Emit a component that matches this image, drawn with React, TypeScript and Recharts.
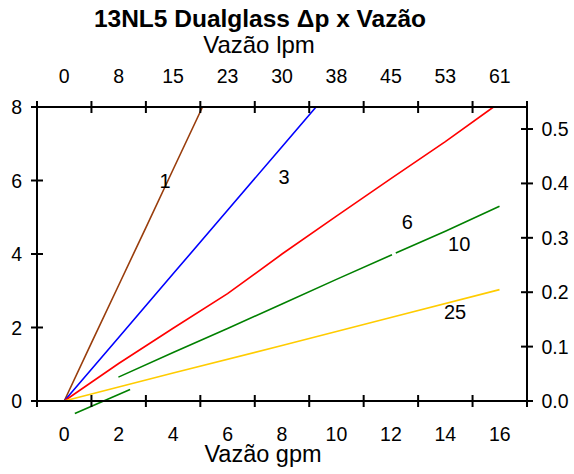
import React from "react";
import { LineChart, Line, XAxis, YAxis, ReferenceLine, ReferenceDot } from "recharts";

const FONT = "'Liberation Sans', Arial, Helvetica, sans-serif";

// curves: gpm -> psi, one pair of arrays per filter rating
const curveNames = ["1", "3", "6", "10", "25"];
const curveColors = ["#993d0c", "#0000ff", "#ff0000", "#008000", "#ffcc00"];

const gpm1 = [0, 1, 2, 3, 4, 5.08];
const psi1 = [0, 1.58, 3.15, 4.72, 6.3, 8];
const gpm3 = [0, 2, 4, 6, 8, 9.25];
const psi3 = [0, 1.73, 3.46, 5.19, 6.92, 8];
const gpm6 = [0, 2, 4, 6, 8, 10, 12, 14, 15.77];
const psi6 = [0, 1.02, 1.98, 2.92, 4.0, 5.03, 6.05, 7.06, 8];
const gpm10 = [1.99, 4, 6, 8, 10, 12.04, 12.11, 12.18, 14, 15.99];
const psi10 = [0.65, 1.32, 1.97, 2.64, 3.31, 3.98, null, 4.03, 4.62, 5.3];
const gpm25 = [0, 4, 8, 12, 15.99];
const psi25 = [0, 0.76, 1.51, 2.27, 3.03];

// loose piece of the "10" curve that dips under the axis
const stubGpm = [0.39, 2.42];
const stubPsi = [-0.34, 0.31];

// where the curve names sit
const labelGpm = [3.7, 8.08, 12.6, 14.51, 14.36];
const labelPsi = [6.0, 6.11, 4.86, 4.28, 2.42];

const gpmTicks = [-1, 0, 1, 2, 3, 4, 5, 6, 7, 8, 9, 10, 11, 12, 13, 14, 15, 16, 17];
const lpmLabels = ["0", "8", "15", "23", "30", "38", "45", "53", "61"];
const psiTicks = [0, 2, 4, 6, 8];
const barTicks = [0, 0.1, 0.2, 0.3, 0.4, 0.5];

const gpmSets = [gpm1, gpm3, gpm6, gpm10, gpm25];
const psiSets = [psi1, psi3, psi6, psi10, psi25];

const series = curveNames.map((name, i) => ({
  name,
  color: curveColors[i],
  data: gpmSets[i].map((g, j) => ({ gpm: g, psi: psiSets[i][j] })),
}));

const tickStyle = { fontSize: 19.5, fontFamily: FONT, fill: "#000" };

function BottomTick(props: any) {
  const { x, y, payload } = props;
  const v = payload.value;
  if (v % 2 !== 0) {
    return <line x1={x} x2={x} y1={y - 6} y2={y + 6} stroke="#000" strokeWidth={2} />;
  }
  return (
    <text x={x} y={y + 40} textAnchor="middle" {...tickStyle}>
      {v}
    </text>
  );
}

function TopTick(props: any) {
  const { x, y, payload } = props;
  const v = payload.value;
  if (v % 2 !== 0) {
    return <line x1={x} x2={x} y1={y - 6} y2={y + 6} stroke="#000" strokeWidth={2} />;
  }
  return (
    <text x={x} y={y - 24.5} textAnchor="middle" {...tickStyle}>
      {lpmLabels[v / 2]}
    </text>
  );
}

function LeftTick(props: any) {
  const { x, y, payload } = props;
  return (
    <g>
      <line x1={x - 6} x2={x + 6} y1={y} y2={y} stroke="#000" strokeWidth={2} />
      <text x={x - 15} y={y + 7} textAnchor="end" {...tickStyle}>
        {payload.value}
      </text>
    </g>
  );
}

function RightTick(props: any) {
  const { x, y, payload } = props;
  return (
    <g>
      <line x1={x - 6} x2={x + 6} y1={y} y2={y} stroke="#000" strokeWidth={2} />
      <text x={x + 14.5} y={y + 7} textAnchor="start" {...tickStyle}>
        {payload.value.toFixed(1)}
      </text>
    </g>
  );
}

export default function App() {
  return (
    <div style={{ position: "absolute", left: 0, top: 0, width: 574, height: 474, background: "#fff" }}>
      <LineChart width={574} height={474} margin={{ top: 0, right: 0, bottom: 0, left: 0 }}>
        <XAxis
          xAxisId="gpm"
          dataKey="gpm"
          type="number"
          orientation="bottom"
          domain={[-1, 17]}
          ticks={gpmTicks}
          interval={0}
          height={73}
          tickSize={0}
          tickMargin={0}
          tickLine={false}
          tick={<BottomTick />}
          axisLine={{ stroke: "#000", strokeWidth: 2 }}
        />
        <XAxis
          xAxisId="lpm"
          dataKey="gpm"
          type="number"
          orientation="top"
          domain={[-1, 17]}
          allowDataOverflow
          ticks={gpmTicks}
          interval={0}
          height={107}
          tickSize={0}
          tickMargin={0}
          tickLine={false}
          tick={<TopTick />}
          axisLine={{ stroke: "#000", strokeWidth: 2 }}
        />
        <YAxis
          yAxisId="psi"
          type="number"
          orientation="left"
          domain={[0, 8]}
          ticks={psiTicks}
          interval={0}
          width={37}
          tickSize={0}
          tickMargin={0}
          tickLine={false}
          tick={<LeftTick />}
          axisLine={{ stroke: "#000", strokeWidth: 2 }}
        />
        <YAxis
          yAxisId="bar"
          type="number"
          orientation="right"
          domain={[0, 0.5405]}
          allowDataOverflow
          ticks={barTicks}
          interval={0}
          width={47}
          tickSize={0}
          tickMargin={0}
          tickLine={false}
          tick={<RightTick />}
          axisLine={{ stroke: "#000", strokeWidth: 2 }}
        />
        {series.map((s) => (
          <Line
            key={s.name}
            xAxisId="gpm"
            yAxisId="psi"
            data={s.data}
            dataKey="psi"
            type="linear"
            stroke={s.color}
            strokeWidth={1.6}
            dot={false}
            activeDot={false}
            connectNulls={false}
            isAnimationActive={false}
          />
        ))}
        {/* invisible copy so the top (lpm) axis has data and draws its ticks */}
        <Line
          xAxisId="lpm"
          yAxisId="psi"
          data={series[4].data}
          dataKey="psi"
          stroke="none"
          dot={false}
          activeDot={false}
          isAnimationActive={false}
        />
        <ReferenceLine
          xAxisId="gpm"
          yAxisId="psi"
          segment={[
            { x: stubGpm[0], y: stubPsi[0] },
            { x: stubGpm[1], y: stubPsi[1] },
          ]}
          stroke={curveColors[3]}
          strokeWidth={1.6}
          ifOverflow="visible"
        />
        {curveNames.map((name, i) => (
          <ReferenceDot
            key={"lbl" + name}
            xAxisId="gpm"
            yAxisId="psi"
            x={labelGpm[i]}
            y={labelPsi[i]}
            r={0}
            fill="none"
            stroke="none"
            label={{ value: name, position: "center", fontSize: 20, fontFamily: FONT, fill: "#000" }}
          />
        ))}
      </LineChart>
      <svg
        width={574}
        height={474}
        style={{ position: "absolute", left: 0, top: 0, pointerEvents: "none" }}
      >
        <text x={260} y={27} textAnchor="middle" fontSize={24.5} fontWeight="bold" fontFamily={FONT}>
          13NL5 Dualglass Δp x Vazão
        </text>
        <text x={259} y={53} textAnchor="middle" fontSize={24} fontFamily={FONT}>
          Vazão lpm
        </text>
        <text x={263} y={462} textAnchor="middle" fontSize={23.5} fontFamily={FONT}>
          Vazão gpm
        </text>
      </svg>
    </div>
  );
}
